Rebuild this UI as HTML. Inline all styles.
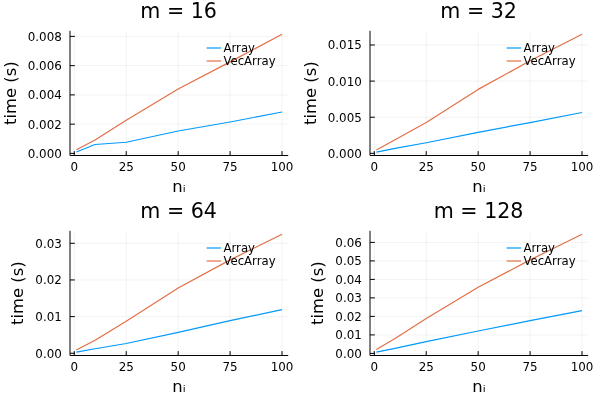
<!DOCTYPE html>
<html lang="en">
<head>
<meta charset="utf-8">
<title>Array vs VecArray timings</title>
<style>
html,body{margin:0;padding:0;background:#fff;}
body{width:600px;height:400px;overflow:hidden;}
svg{display:block;}
text{font-family:"DejaVu Sans", "Liberation Sans", sans-serif;fill:#000;}
.tick{font-size:11.9px;}
.guide{font-size:16.4px;}
.title{font-size:20.6px;}
.leg{font-size:11.7px;}
.grid{stroke:#000;stroke-opacity:0.1;stroke-width:0.5;fill:none;}
.axis{stroke:#000;stroke-width:1;fill:none;}
.ser{fill:none;stroke-width:1.2;stroke-linejoin:round;}
</style>
</head>
<body>
<svg width="600" height="400" viewBox="0 0 600 400">
<rect x="0" y="0" width="600" height="400" fill="#fff"/>

<g transform="translate(0,0)">
<path class="grid" d="M74.29 30.8V155.5M126.22 30.8V155.5M178.16 30.8V155.5M230.1 30.8V155.5M282.03 30.8V155.5M70 153.4H288.2M70 124.15H288.2M70 94.9H288.2M70 65.65H288.2M70 36.4H288.2"/>
<polyline class="ser" stroke="#009AFA" points="76.37,152 95.06,144.5 126.22,142.25 178.16,131 230.1,122 282.03,112"/>
<polyline class="ser" stroke="#E36F47" points="76.37,149.75 95.06,140 126.22,120.2 178.16,89 230.1,61.9 282.03,34.3"/>
<path class="axis" d="M70 30.8V155.5M70 155.5H288.2M74.29 155.5V151.1M126.22 155.5V151.1M178.16 155.5V151.1M230.1 155.5V151.1M282.03 155.5V151.1M70 153.4H74.8M70 124.15H74.8M70 94.9H74.8M70 65.65H74.8M70 36.4H74.8"/>
<text class="tick" text-anchor="middle" x="74.29" y="171.2">0</text>
<text class="tick" text-anchor="middle" x="126.22" y="171.2">25</text>
<text class="tick" text-anchor="middle" x="178.16" y="171.2">50</text>
<text class="tick" text-anchor="middle" x="230.1" y="171.2">75</text>
<text class="tick" text-anchor="middle" x="282.03" y="171.2">100</text>
<text class="tick" text-anchor="end" x="61.8" y="157.9">0.000</text>
<text class="tick" text-anchor="end" x="61.8" y="128.65">0.002</text>
<text class="tick" text-anchor="end" x="61.8" y="99.4">0.004</text>
<text class="tick" text-anchor="end" x="61.8" y="70.15">0.006</text>
<text class="tick" text-anchor="end" x="61.8" y="40.9">0.008</text>
<text class="title" text-anchor="middle" x="178.6" y="18">m = 16</text>
<text class="guide" text-anchor="middle" x="179" y="191.8">nᵢ</text>
<text class="guide" text-anchor="middle" transform="translate(16.2,93.15) rotate(-90)">time (s)</text>
<path class="ser" stroke="#009AFA" d="M206.6 48H221.1"/>
<path class="ser" stroke="#E36F47" d="M206.6 61H221.1"/>
<text class="leg" x="223.5" y="52.3">Array</text>
<text class="leg" x="223.4" y="65.3">VecArray</text>
</g>
<g transform="translate(300,0)">
<path class="grid" d="M74.29 30.8V155.5M126.22 30.8V155.5M178.16 30.8V155.5M230.1 30.8V155.5M282.03 30.8V155.5M70 153.35H288.2M70 117.23H288.2M70 81.11H288.2M70 44.99H288.2"/>
<polyline class="ser" stroke="#009AFA" points="76.37,152.05 95.06,148.45 126.22,142.75 178.16,132.3 230.1,122.6 282.03,112.5"/>
<polyline class="ser" stroke="#E36F47" points="76.37,149.95 95.06,139.75 126.22,122.5 178.16,89.4 230.1,60.8 282.03,34.3"/>
<path class="axis" d="M70 30.8V155.5M70 155.5H288.2M74.29 155.5V151.1M126.22 155.5V151.1M178.16 155.5V151.1M230.1 155.5V151.1M282.03 155.5V151.1M70 153.35H74.8M70 117.23H74.8M70 81.11H74.8M70 44.99H74.8"/>
<text class="tick" text-anchor="middle" x="74.29" y="171.2">0</text>
<text class="tick" text-anchor="middle" x="126.22" y="171.2">25</text>
<text class="tick" text-anchor="middle" x="178.16" y="171.2">50</text>
<text class="tick" text-anchor="middle" x="230.1" y="171.2">75</text>
<text class="tick" text-anchor="middle" x="282.03" y="171.2">100</text>
<text class="tick" text-anchor="end" x="61.8" y="157.85">0.000</text>
<text class="tick" text-anchor="end" x="61.8" y="121.73">0.005</text>
<text class="tick" text-anchor="end" x="61.8" y="85.61">0.010</text>
<text class="tick" text-anchor="end" x="61.8" y="49.49">0.015</text>
<text class="title" text-anchor="middle" x="178.6" y="18">m = 32</text>
<text class="guide" text-anchor="middle" x="179" y="191.8">nᵢ</text>
<text class="guide" text-anchor="middle" transform="translate(16.2,93.15) rotate(-90)">time (s)</text>
<path class="ser" stroke="#009AFA" d="M206.6 48H221.1"/>
<path class="ser" stroke="#E36F47" d="M206.6 61H221.1"/>
<text class="leg" x="223.5" y="52.3">Array</text>
<text class="leg" x="223.4" y="65.3">VecArray</text>
</g>
<g transform="translate(0,200)">
<path class="grid" d="M74.29 30.8V155.5M126.22 30.8V155.5M178.16 30.8V155.5M230.1 30.8V155.5M282.03 30.8V155.5M70 153.25H288.2M70 116.6H288.2M70 79.95H288.2M70 43.3H288.2"/>
<polyline class="ser" stroke="#009AFA" points="76.37,152.05 95.06,148.75 126.22,143.5 178.16,132.3 230.1,120.6 282.03,109.6"/>
<polyline class="ser" stroke="#E36F47" points="76.37,149.95 95.06,140.2 126.22,121.2 178.16,88 230.1,59.9 282.03,34.3"/>
<path class="axis" d="M70 30.8V155.5M70 155.5H288.2M74.29 155.5V151.1M126.22 155.5V151.1M178.16 155.5V151.1M230.1 155.5V151.1M282.03 155.5V151.1M70 153.25H74.8M70 116.6H74.8M70 79.95H74.8M70 43.3H74.8"/>
<text class="tick" text-anchor="middle" x="74.29" y="171.2">0</text>
<text class="tick" text-anchor="middle" x="126.22" y="171.2">25</text>
<text class="tick" text-anchor="middle" x="178.16" y="171.2">50</text>
<text class="tick" text-anchor="middle" x="230.1" y="171.2">75</text>
<text class="tick" text-anchor="middle" x="282.03" y="171.2">100</text>
<text class="tick" text-anchor="end" x="61.8" y="157.75">0.00</text>
<text class="tick" text-anchor="end" x="61.8" y="121.1">0.01</text>
<text class="tick" text-anchor="end" x="61.8" y="84.45">0.02</text>
<text class="tick" text-anchor="end" x="61.8" y="47.8">0.03</text>
<text class="title" text-anchor="middle" x="178.6" y="18">m = 64</text>
<text class="guide" text-anchor="middle" x="179" y="191.8">nᵢ</text>
<text class="guide" text-anchor="middle" transform="translate(23.3,93.15) rotate(-90)">time (s)</text>
<path class="ser" stroke="#009AFA" d="M206.6 48H221.1"/>
<path class="ser" stroke="#E36F47" d="M206.6 61H221.1"/>
<text class="leg" x="223.5" y="52.3">Array</text>
<text class="leg" x="223.4" y="65.3">VecArray</text>
</g>
<g transform="translate(300,200)">
<path class="grid" d="M74.29 30.8V155.5M126.22 30.8V155.5M178.16 30.8V155.5M230.1 30.8V155.5M282.03 30.8V155.5M70 153.4H288.2M70 134.9H288.2M70 116.4H288.2M70 97.9H288.2M70 79.4H288.2M70 60.9H288.2M70 42.4H288.2"/>
<polyline class="ser" stroke="#009AFA" points="76.37,152.05 95.06,148.3 126.22,141.7 178.16,131 230.1,120.6 282.03,110.55"/>
<polyline class="ser" stroke="#E36F47" points="76.37,149.5 95.06,138.4 126.22,118.6 178.16,87.3 230.1,59.9 282.03,34.3"/>
<path class="axis" d="M70 30.8V155.5M70 155.5H288.2M74.29 155.5V151.1M126.22 155.5V151.1M178.16 155.5V151.1M230.1 155.5V151.1M282.03 155.5V151.1M70 153.4H74.8M70 134.9H74.8M70 116.4H74.8M70 97.9H74.8M70 79.4H74.8M70 60.9H74.8M70 42.4H74.8"/>
<text class="tick" text-anchor="middle" x="74.29" y="171.2">0</text>
<text class="tick" text-anchor="middle" x="126.22" y="171.2">25</text>
<text class="tick" text-anchor="middle" x="178.16" y="171.2">50</text>
<text class="tick" text-anchor="middle" x="230.1" y="171.2">75</text>
<text class="tick" text-anchor="middle" x="282.03" y="171.2">100</text>
<text class="tick" text-anchor="end" x="61.8" y="157.9">0.00</text>
<text class="tick" text-anchor="end" x="61.8" y="139.4">0.01</text>
<text class="tick" text-anchor="end" x="61.8" y="120.9">0.02</text>
<text class="tick" text-anchor="end" x="61.8" y="102.4">0.03</text>
<text class="tick" text-anchor="end" x="61.8" y="83.9">0.04</text>
<text class="tick" text-anchor="end" x="61.8" y="65.4">0.05</text>
<text class="tick" text-anchor="end" x="61.8" y="46.9">0.06</text>
<text class="title" text-anchor="middle" x="178.6" y="18">m = 128</text>
<text class="guide" text-anchor="middle" x="179" y="191.8">nᵢ</text>
<text class="guide" text-anchor="middle" transform="translate(23.3,93.15) rotate(-90)">time (s)</text>
<path class="ser" stroke="#009AFA" d="M206.6 48H221.1"/>
<path class="ser" stroke="#E36F47" d="M206.6 61H221.1"/>
<text class="leg" x="223.5" y="52.3">Array</text>
<text class="leg" x="223.4" y="65.3">VecArray</text>
</g>
</svg>
</body>
</html>
